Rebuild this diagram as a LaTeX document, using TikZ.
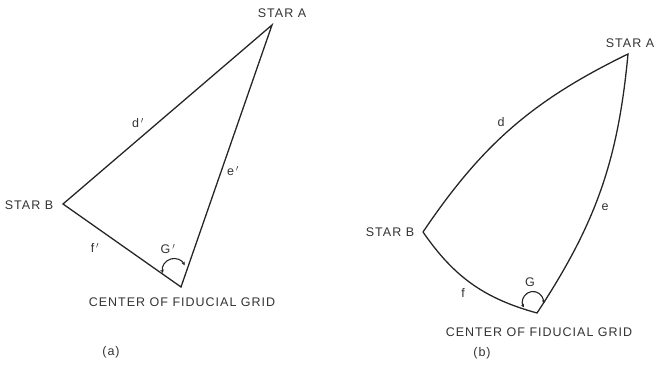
\documentclass[tikz,border=0pt]{standalone}
\usepackage{fontspec}
\setmainfont{Liberation Sans}[LetterSpace=8]
\usetikzlibrary{arrows.meta}
\begin{document}
\begin{tikzpicture}[x=1pt,y=1pt,
  edge/.style={line width=1.3pt,draw=black!85},
  lbl/.style={inner sep=0pt,text=black!80,font=\fontsize{12.5}{14}\selectfont},
  angarc/.style={line width=1.1pt,draw=black!85,{Stealth[length=3.5pt,width=3.5pt]}-{Stealth[length=3.5pt,width=3.5pt]}}]
\useasboundingbox (0,0) rectangle (658,366);
% (a)
\coordinate (A1) at (272,341);
\coordinate (B1) at (63,162);
\coordinate (C1) at (181,79);
\draw[edge,line join=miter] (A1) -- (B1) -- (C1) -- cycle;
\node[lbl] (sa1) at (282,353) {STAR A};
\node[lbl] (sb1) at (29,161) {STAR B};
\node[lbl] (cf1) at (182,64) {CENTER OF FIDUCIAL GRID};
\node[lbl] (d1) at (138,243) {d$\,'$};
\node[lbl] (e1) at (233,195) {e$\,'$};
\node[lbl] (f1) at (95,118) {f$\,'$};
\node[lbl] (g1) at (168,117) {G$\,'$};
\node[lbl] (pa) at (111,14) {(a)};
\draw[angarc] (174,96) ++(195:11.5) arc[start angle=195,end angle=24,radius=11.5];
% (b)
\coordinate (A2) at (628,312);
\coordinate (B2) at (423,134);
\coordinate (C2) at (537,53);
\draw[edge,line join=miter] (B2) to[bend left=15] (A2) to[bend left=14] (C2) to[bend left=20] (B2);
\node[lbl] (sa2) at (630,323) {STAR A};
\node[lbl] (sb2) at (390,134) {STAR B};
\node[lbl] (cf2) at (539,34) {CENTER OF FIDUCIAL GRID};
\node[lbl] (d2) at (501,244) {d};
\node[lbl] (e2) at (605,159) {e};
\node[lbl] (f2) at (463,73) {f};
\node[lbl] (g2) at (530,84) {G};
\node[lbl] (pb) at (482,13) {(b)};
\draw[angarc] (533,64) ++(211:10.5) arc[start angle=211,end angle=-10,radius=10.5];
\end{tikzpicture}
\end{document}
